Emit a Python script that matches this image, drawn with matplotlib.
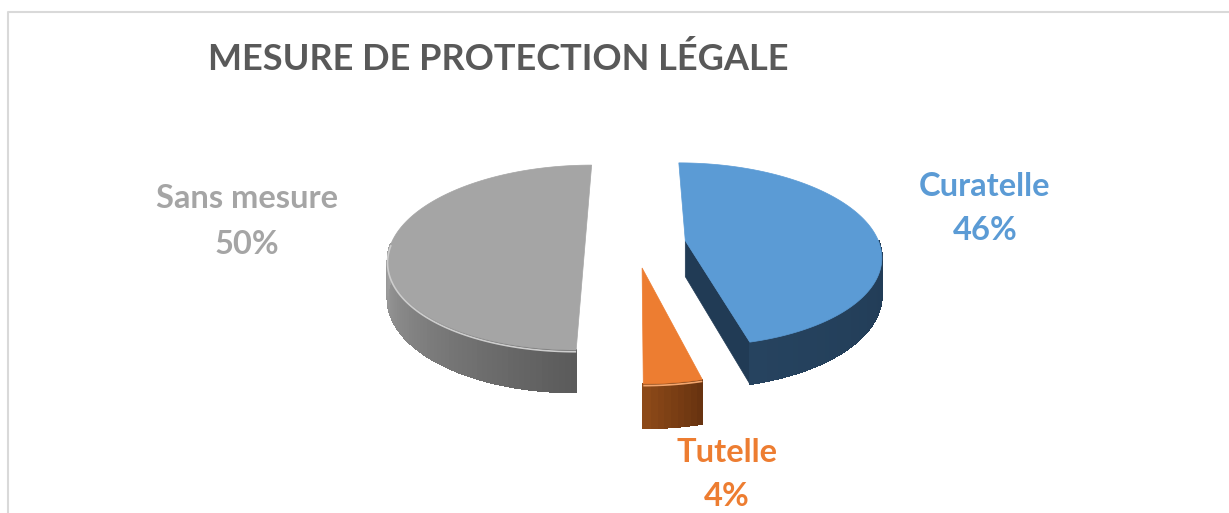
import numpy as np
import matplotlib.pyplot as plt
from matplotlib.patches import Polygon
from matplotlib.lines import Line2D
from matplotlib import colors as mcolors

plt.rcParams['font.family'] = ['Lato', 'DejaVu Sans']

# data
labels = ['Curatelle', 'Tutelle', 'Sans mesure']
values = [46, 4, 50]
title = 'MESURE DE PROTECTION LÉGALE'

# styles
top_colors = ['#5B9BD5', '#ED7D31', '#A5A5A5']
side_light = ['#26435F', '#8E4A19', '#A0A0A0']
side_dark = ['#213B55', '#66320F', '#5A5A5A']
label_colors = ['#5B9BD5', '#ED7D31', '#A5A5A5']
rim_colors = [None, '#F4A66E', '#CDCDCD']
label_pos = [(985, 186), (727, 452), (247, 199)]
draw_order = [2, 0, 1]

W, H = 1229, 513
fig = plt.figure(figsize=(W / 100, H / 100), dpi=100)
ax = fig.add_axes([0, 0, 1, 1])
ax.set_xlim(0, W)
ax.set_ylim(H, 0)
ax.axis('off')

# pie geometry (pixels), simple perspective: near side looks bigger
cx, cy = 635.5, 243.7
rx, ry = 194, 90.4
persp = 0.15
depth = 36
explode = 0.26

fracs = np.array(values, dtype=float) / sum(values)
ends = np.cumsum(fracs) * 360
starts = ends - fracs * 360


def proj(u, v, z=0.0):
    s = 1.0 / (1.0 + persp * v)
    return cx + rx * u * s, cy - ry * v * s + depth * z * s


def rim(theta, eu, ev, z=0.0):
    t = np.radians(theta)
    return proj(eu + np.sin(t), ev + np.cos(t), z)


def mix(c1, c2, w):
    a = np.array(mcolors.to_rgb(c1))
    b = np.array(mcolors.to_rgb(c2))
    return tuple(a * (1 - w) + b * w)


for i in draw_order:
    t0, t1 = starts[i], ends[i]
    mid = np.radians((t0 + t1) / 2)
    eu, ev = explode * np.sin(mid), explode * np.cos(mid)
    c_top = proj(eu, ev)
    c_bot = proj(eu, ev, 1)

    # cut faces that look at the viewer
    for t, nt in [(t0, t0 - 90), (t1, t1 + 90)]:
        if np.cos(np.radians(nt)) < -1e-6:
            face = [c_top, rim(t, eu, ev), rim(t, eu, ev, 1), c_bot]
            ax.add_patch(Polygon(face, closed=True, fc=side_dark[i], ec=side_dark[i], lw=0.5))

    # curved outer wall (front half only)
    a, b = max(t0, 90), min(t1, 270)
    if a < b:
        ts = np.linspace(a, b, 200)
        outline = [rim(t, eu, ev) for t in ts] + [rim(t, eu, ev, 1) for t in ts[::-1]]
        ax.add_patch(Polygon(outline, closed=True, fc=mix(side_dark[i], side_light[i], 0.5),
                             ec='none'))
        n = max(2, int((b - a) / 1.5))
        ts = np.linspace(a, b, n + 1)
        for j in range(n):
            w = ((ts[j] + ts[j + 1]) / 2 - a) / (b - a)
            col = mix(side_dark[i], side_light[i], w)
            quad = [rim(ts[j], eu, ev), rim(ts[j + 1], eu, ev),
                    rim(ts[j + 1], eu, ev, 1), rim(ts[j], eu, ev, 1)]
            ax.add_patch(Polygon(quad, closed=True, fc=col, ec=col, lw=0.8,
                                 antialiased=False))

    # top face
    ts = np.linspace(t0, t1, max(3, int(t1 - t0) * 2))
    arc = [rim(t, eu, ev) for t in ts]
    ax.add_patch(Polygon([c_top] + arc, closed=True, fc=top_colors[i], ec=top_colors[i], lw=0.5))

    # light bevel on the front edge
    if rim_colors[i] and a < b:
        ts = np.linspace(a, b, 100)
        pts = np.array([rim(t, eu, ev, 0.04) for t in ts])
        ax.plot(pts[:, 0], pts[:, 1], color=rim_colors[i], lw=1.2, solid_capstyle='butt')

# labels
for i, lab in enumerate(labels):
    x, y = label_pos[i]
    pct = '{:.0f}%'.format(fracs[i] * 100)
    ax.text(x, y, lab, color=label_colors[i], fontsize=23.5, fontweight='bold',
            ha='center', va='center')
    ax.text(x, y + 45, pct, color=label_colors[i], fontsize=23.5, fontweight='bold',
            ha='center', va='center')

ax.text(208, 59, title, color='#595959', fontsize=26, fontweight='bold',
        ha='left', va='center')

# chart border
fig.add_artist(Line2D([8 / W, 8 / W, 1], [0, 1 - 12 / H, 1 - 12 / H],
                      color='#D9D9D9', lw=1.5))

fig.savefig('out.png', dpi=100)
